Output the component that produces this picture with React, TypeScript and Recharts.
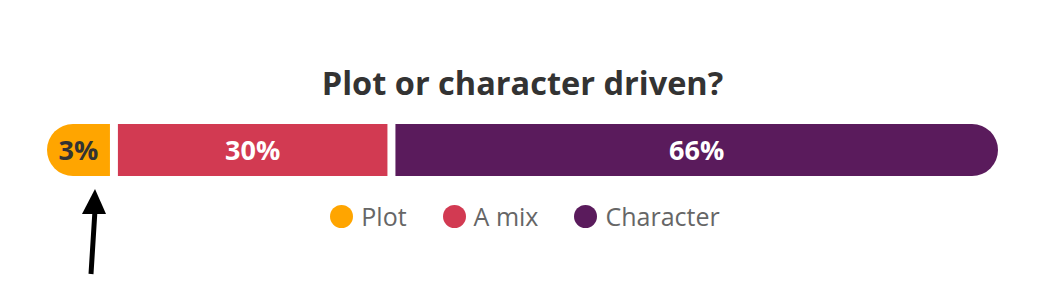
import React from "react"
import { BarChart, Bar, XAxis, YAxis, LabelList, Rectangle } from "recharts"

const title = "Plot or character driven?"
const categories = ["Plot", "A mix", "Character"]
const shares = [3, 30, 66]
const colors = ["#FFA500", "#D23A52", "#5A1B5C"]
const labelColors = ["#333333", "#ffffff", "#ffffff"]

// tiny slices get a minimum width so their label fits
const MIN_SHARE = 6.8
const GAP = 8
const FONT = "'Open Sans', 'Noto Sans', sans-serif"

const row: Record<string, number | string> = { name: "answers" }
categories.forEach((c, i) => {
  row[c] = Math.max(shares[i], MIN_SHARE)
  row[`${c}_label`] = `${shares[i]}%`
})
const data = [row]
const total = categories.reduce((s, c) => s + (row[c] as number), 0)

const App: React.FC = () => {
  const last = categories.length - 1
  return (
    <div style={{ position: "relative", width: 1022, height: 280, fontFamily: FONT }}>
      <div
        style={{
          position: "absolute",
          top: 55,
          left: 39,
          width: 951,
          textAlign: "center",
          fontSize: 32.5,
          fontWeight: 700,
          color: "#333333",
          lineHeight: "40px",
        }}
      >
        {title}
      </div>
      <BarChart
        width={1022}
        height={280}
        data={data}
        layout="vertical"
        margin={{ top: 116, right: 32, bottom: 112, left: 39 }}
        barCategoryGap={0}
      >
        <XAxis type="number" hide domain={[0, total]} />
        <YAxis type="category" dataKey="name" hide width={0} />
        {categories.map((c, i) => {
          const inset = i === 0 ? 0 : GAP
          const radius: [number, number, number, number] =
            i === 0 ? [26, 0, 0, 26] : i === last ? [0, 26, 26, 0] : [0, 0, 0, 0]
          return (
            <Bar
              key={c}
              dataKey={c}
              stackId="a"
              fill={colors[i]}
              isAnimationActive={false}
              shape={(p: any) => (
                <Rectangle
                  x={p.x + inset}
                  y={p.y}
                  width={p.width - inset}
                  height={p.height}
                  radius={radius}
                  fill={colors[i]}
                />
              )}
            >
              <LabelList
                dataKey={`${c}_label`}
                content={(p: any) => (
                  <text
                    x={p.x + inset + (p.width - inset) / 2}
                    y={p.y + p.height / 2}
                    dy="0.36em"
                    textAnchor="middle"
                    fill={labelColors[i]}
                    fontSize={27}
                    fontWeight={700}
                    fontFamily={FONT}
                  >
                    {p.value}
                  </text>
                )}
              />
            </Bar>
          )
        })}
      </BarChart>
      <div
        style={{
          position: "absolute",
          top: 193,
          left: 0,
          width: 1022,
          display: "flex",
          justifyContent: "center",
          gap: 36,
          marginLeft: 6,
        }}
      >
        {categories.map((c, i) => (
          <div key={c} style={{ display: "flex", alignItems: "center", gap: 8 }}>
            <span
              style={{
                width: 23,
                height: 23,
                borderRadius: "50%",
                background: colors[i],
                display: "inline-block",
              }}
            />
            <span style={{ fontSize: 25, color: "#666666", lineHeight: "30px" }}>{c}</span>
          </div>
        ))}
      </div>
      <svg
        width={1022}
        height={280}
        style={{ position: "absolute", top: 0, left: 0, pointerEvents: "none" }}
      >
        <line x1={83} y1={266} x2={87} y2={202} stroke="#000" strokeWidth={5} />
        <polygon points="87,181 74,206 98,206" fill="#000" />
      </svg>
    </div>
  )
}

export default App
